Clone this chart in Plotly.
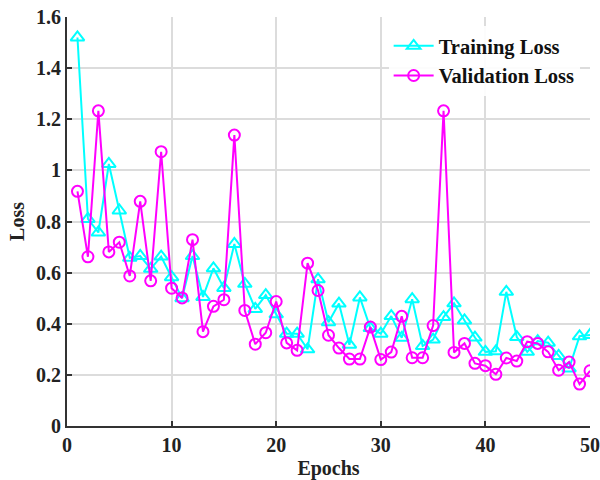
import plotly.graph_objects as go

epochs = list(range(1, 51))
training_loss = [1.52, 0.81, 0.757, 1.025, 0.843, 0.658, 0.665, 0.615, 0.663, 0.582,
                 0.50, 0.665, 0.505, 0.617, 0.54, 0.712, 0.556, 0.458, 0.512, 0.437,
                 0.361, 0.361, 0.30, 0.574, 0.406, 0.479, 0.318, 0.503, 0.383, 0.361,
                 0.43, 0.345, 0.496, 0.313, 0.338, 0.426, 0.48, 0.413, 0.346, 0.29,
                 0.292, 0.525, 0.348, 0.29, 0.332, 0.326, 0.274, 0.225, 0.351, 0.356]
validation_loss = [0.918, 0.662, 1.233, 0.681, 0.719, 0.587, 0.879, 0.568, 1.073, 0.539,
                   0.501, 0.729, 0.369, 0.468, 0.494, 1.138, 0.452, 0.32, 0.365, 0.487,
                   0.325, 0.296, 0.637, 0.53, 0.355, 0.305, 0.262, 0.262, 0.387, 0.26,
                   0.289, 0.429, 0.267, 0.267, 0.393, 1.233, 0.288, 0.323, 0.245, 0.236,
                   0.202, 0.266, 0.254, 0.33, 0.323, 0.29, 0.218, 0.25, 0.164, 0.216]
x_ticks = [0, 10, 20, 30, 40, 50]
y_ticks = [0, 0.2, 0.4, 0.6, 0.8, 1.0, 1.2, 1.4, 1.6]
y_tick_labels = ["0", "0.2", "0.4", "0.6", "0.8", "1", "1.2", "1.4", "1.6"]

font_family = "Liberation Serif"

fig = go.Figure()
fig.add_trace(go.Scatter(
    x=epochs, y=training_loss, mode="lines+markers", name="<b>Training Loss</b>",
    line=dict(color="#00FFFF", width=2),
    marker=dict(symbol="triangle-up-open", size=12, color="#00FFFF", line=dict(width=2, color="#00FFFF")),
))
fig.add_trace(go.Scatter(
    x=epochs, y=validation_loss, mode="lines+markers", name="<b>Validation Loss</b>",
    line=dict(color="#FF00FF", width=2),
    marker=dict(symbol="circle-open", size=11, color="#FF00FF", line=dict(width=2, color="#FF00FF")),
))

axis_common = dict(
    showgrid=True, gridcolor="#DCDCDC", gridwidth=1.5,
    showline=True, linecolor="#333333", linewidth=2,
    ticks="inside", ticklen=5, tickwidth=1.5, tickcolor="#333333",
    zeroline=False, automargin=False,
    tickfont=dict(family=font_family, size=20, color="#222222"),
)

fig.update_xaxes(
    range=[0, 50], tickvals=x_ticks, ticktext=[f"<b>{t}</b>" for t in x_ticks],
    title=dict(text="<b>Epochs</b>", font=dict(family=font_family, size=20, color="#222222"), standoff=11),
    **axis_common,
)
fig.update_yaxes(
    range=[0, 1.6], tickvals=y_ticks, ticktext=[f"<b>{t}</b>" for t in y_tick_labels],
    title=dict(text="<b>Loss</b>", font=dict(family=font_family, size=20, color="#222222"), standoff=6),
    **axis_common,
)

fig.update_layout(
    width=600, height=480,
    margin=dict(l=67, r=10, t=17, b=54),
    plot_bgcolor="white", paper_bgcolor="white",
    font=dict(family=font_family, color="#222222"),
    legend=dict(
        x=0.615, y=0.978, xanchor="left", yanchor="top",
        bgcolor="rgba(255,255,255,0.9)", borderwidth=0,
        font=dict(family=font_family, size=20.5, color="#111111"),
        itemwidth=40, tracegroupgap=0,
    ),
    showlegend=True,
)

fig.write_html("out.html")
